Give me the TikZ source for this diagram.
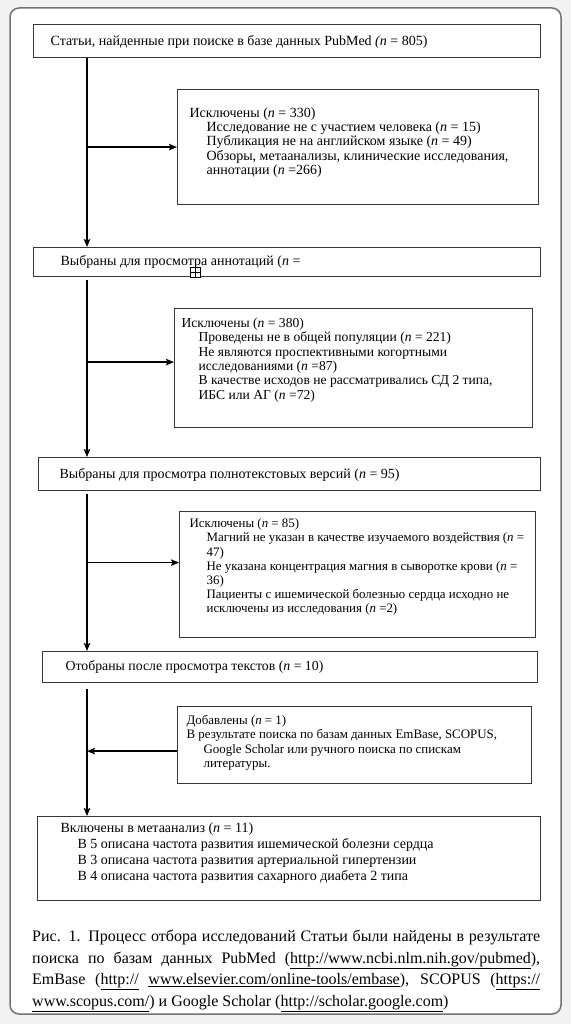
\documentclass[tikz,border=0pt]{standalone}
\usepackage{fontspec}
\setmainfont{Liberation Serif}
\usetikzlibrary{arrows.meta}
\newcommand{\bx}[7]{% width, height, first baseline, left pad, font size, baselineskip, content
  \parbox[t][#2pt][t]{#1pt}{\vspace*{\dimexpr#3pt-0.7\dimexpr#6pt\relax\relax}\fontsize{#5}{#6}\selectfont\raggedright\leftskip=#4pt\relax\parindent=0pt\strut #7\par}}
\newcommand{\nn}{\textit{n}}
\newcommand{\ind}{\hspace*{17pt}}
\begin{document}
\begin{tikzpicture}[x=1pt,y=-1pt,
  boxst/.style={draw=black!78, line width=1.2pt, anchor=north west, inner sep=0pt, fill=white},
  arr/.style={line width=1.4pt, draw=black, -{Stealth[length=8pt,width=6.5pt,inset=1.5pt]}},
  ln/.style={line width=1.4pt, draw=black}]
\fill[black!5] (0,0) rectangle (571,1024);
\useasboundingbox (0,0) rectangle (571,1024);
\draw[black!55, line width=1.5pt, rounded corners=9pt, fill=white] (10,8) rectangle (561,1014);
\coordinate (c) at (87,0);
% boxes
\node[boxst] (b1) at (33,24) {\bx{507}{33}{21}{17}{14}{14.2}{Статьи, найденные при поиске в базе данных PubMed \textit{(n} = 805)}};
\node[boxst] (e1) at (177,89) {\bx{361}{115}{28}{12}{14}{14.2}{Исключены (\nn{} = 330)\\
\ind Исследование не с участием человека (\nn{} = 15)\\
\ind Публикация не на английском языке (\nn{} = 49)\\
\ind Обзоры, метаанализы, клинические исследования,\\
\ind аннотации (\nn{} =266)}};
\node[boxst] (b2) at (33,247) {\bx{507}{29}{18}{27}{14}{14.2}{Выбраны для просмотра аннотаций (\nn{} =}};
\node[boxst] (e2) at (174,308) {\bx{358}{119}{19}{7}{13.6}{14.3}{Исключены (\nn{} = 380)\\
\ind Проведены не в общей популяции (\nn{} = 221)\\
\ind Не являются проспективными когортными\\
\ind исследованиями (\nn{} =87)\\
\ind В качестве исходов не рассматривались СД 2 типа,\\
\ind ИБС или АГ (\nn{} =72)}};
\node[boxst] (b3) at (38,457) {\bx{502}{33}{21}{21}{14}{14.2}{Выбраны для просмотра полнотекстовых версий (\nn{} = 95)}};
\node[boxst] (e3) at (179,511) {\bx{356}{126}{16}{10}{12.9}{14.2}{Исключены (\nn{} = 85)\\
\ind Магний не указан в качестве изучаемого воздействия (\nn{} =\\
\ind 47)\\
\ind Не указана концентрация магния в сыворотке крови (\nn{} =\\
\ind 36)\\
\ind Пациенты с ишемической болезнью сердца исходно не\\
\ind исключены из исследования (\nn{} =2)}};
\node[boxst] (b4) at (42,651) {\bx{495}{31}{19}{23}{13.8}{14.2}{Отобраны после просмотра текстов (\nn{} = 10)}};
\node[boxst] (e4) at (177,706) {\bx{354}{77}{18}{9}{12.9}{14.2}{Добавлены (\nn{} = 1)\\
В результате поиска по базам данных EmBase, SCOPUS,\\
\ind Google Scholar или ручного поиска по спискам\\
\ind литературы.}};
\node[boxst] (b5) at (37,816) {\bx{503}{84}{16}{23}{14}{16}{Включены в метаанализ (\nn{} = 11)\\
\ind В 5 описана частота развития ишемической болезни сердца\\
\ind В 3 описана частота развития артериальной гипертензии\\
\ind В 4 описана частота развития сахарного диабета 2 типа}};
% small icon
\node[draw=black, line width=0.8pt, minimum size=10pt, inner sep=0pt, fill=white] (ic) at (195,272) {};
\draw[line width=0.8pt] (ic.north) -- (ic.south) (ic.west) -- (ic.east);
% connectors
\draw[arr] (b1.south -| c) -- (b2.north -| c);
\draw[arr] (e1.west -| c) -- (e1.west);
\draw[arr] ([yshift=-3pt]b2.south -| c) -- (b3.north -| c);
\draw[arr] ([yshift=6pt]e2.west -| c) -- ([yshift=6pt]e2.west);
\draw[arr] ([yshift=-3pt]b3.south -| c) -- (b4.north -| c);
\draw[arr] ([yshift=12pt]e3.west -| c) -- ([yshift=12pt]e3.west);
\draw[arr] ([yshift=-6pt]b4.south -| c) -- (b5.north -| c);
\draw[arr] ([yshift=-6pt]e4.west) -- ([yshift=-6pt]e4.west -| c);
% caption
\node[anchor=north west, inner sep=0pt, text width=508pt, align=justify] (cap) at (32,930) {\fontsize{16}{21.5}\selectfont\hyphenpenalty=10000
Рис. 1. Процесс отбора исследований Статьи были найдены в результате\linebreak
поиска по базам данных PubMed (\underline{http://www.ncbi.nlm.nih.gov/pubmed}),\linebreak
EmBase (\underline{http://} \underline{www.elsevier.com/online-tools/embase}), SCOPUS (\underline{https://}\linebreak
\underline{www.scopus.com/}) и Google Scholar (\underline{http://scholar.google.com})\par};
\end{tikzpicture}
\end{document}
